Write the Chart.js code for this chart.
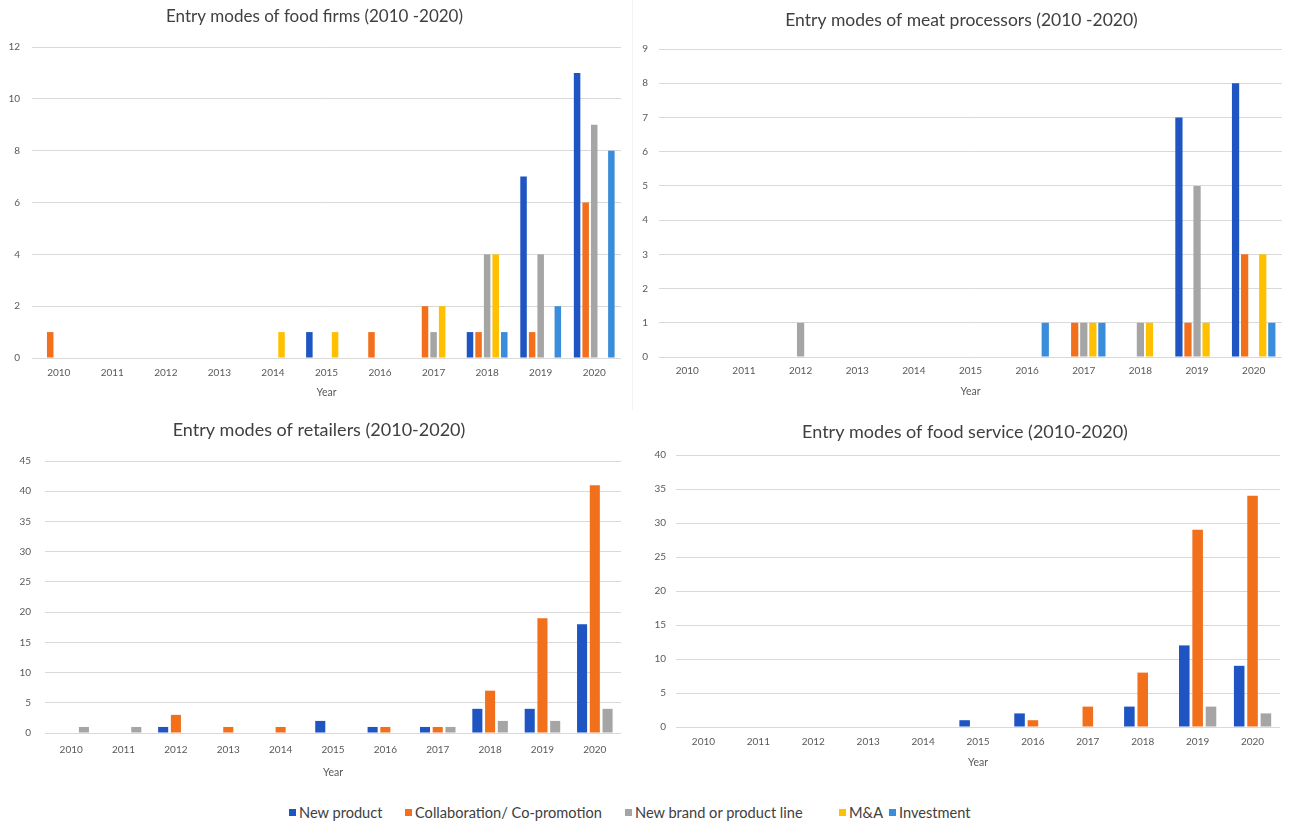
<!DOCTYPE html>
<html>
<head>
<meta charset="utf-8">
<script src="https://cdn.jsdelivr.net/npm/chart.js@4.4.1/dist/chart.umd.min.js"></script>
<style>
  html, body { margin: 0; padding: 0; background: #ffffff; }
  body { width: 1290px; height: 828px; position: relative; overflow: hidden; font-family: Lato, "Open Sans", sans-serif; }
  canvas { position: absolute; }
  .divider { position: absolute; left: 632px; top: 0; width: 1px; height: 410px; background: #f3f3f3; }
  .legend-item { position: absolute; top: 803px; height: 18px; display: flex; align-items: center; font-size: 14.6px; color: #404040; white-space: nowrap; }
  .legend-item span.box { width: 7px; height: 7px; margin-right: 3px; display: inline-block; }
</style>
</head>
<body>
<div class="divider"></div>
<canvas id="foodFirms"></canvas>
<canvas id="meatProcessors"></canvas>
<canvas id="retailers"></canvas>
<canvas id="foodService"></canvas>
<div id="legend"></div>

<script>
// Years on the category axis
const years = ['2010', '2011', '2012', '2013', '2014', '2015', '2016', '2017', '2018', '2019', '2020'];

// Entry modes
const modeNames = ['New product', 'Collaboration/ Co-promotion', 'New brand or product line', 'M&A', 'Investment'];
const modeColors = ['#1f55c2', '#f26f1c', '#a5a5a5', '#ffc000', '#3a8dda'];

// Food firms
const foodNewProduct = [0, 0, 0, 0, 0, 1, 0, 0, 1, 7, 11];
const foodCollaboration = [1, 0, 0, 0, 0, 0, 1, 2, 1, 1, 6];
const foodNewBrand = [0, 0, 0, 0, 0, 0, 0, 1, 4, 4, 9];
const foodMA = [0, 0, 0, 0, 1, 1, 0, 2, 4, 0, 0];
const foodInvestment = [0, 0, 0, 0, 0, 0, 0, 0, 1, 2, 8];

// Meat processors
const meatNewProduct = [0, 0, 0, 0, 0, 0, 0, 0, 0, 7, 8];
const meatCollaboration = [0, 0, 0, 0, 0, 0, 0, 1, 0, 1, 3];
const meatNewBrand = [0, 0, 1, 0, 0, 0, 0, 1, 1, 5, 0];
const meatMA = [0, 0, 0, 0, 0, 0, 0, 1, 1, 1, 3];
const meatInvestment = [0, 0, 0, 0, 0, 0, 1, 1, 0, 0, 1];

// Retailers
const retailNewProduct = [0, 0, 1, 0, 0, 2, 1, 1, 4, 4, 18];
const retailCollaboration = [0, 0, 3, 1, 1, 0, 1, 1, 7, 19, 41];
const retailNewBrand = [1, 1, 0, 0, 0, 0, 0, 1, 2, 2, 4];

// Food service
const serviceNewProduct = [0, 0, 0, 0, 0, 1, 2, 0, 3, 12, 9];
const serviceCollaboration = [0, 0, 0, 0, 0, 0, 1, 3, 8, 29, 34];
const serviceNewBrand = [0, 0, 0, 0, 0, 0, 0, 0, 0, 3, 2];

// Value axis ranges
const foodAxis = { max: 12, step: 2 };
const meatAxis = { max: 9, step: 1 };
const retailAxis = { max: 45, step: 5 };
const serviceAxis = { max: 40, step: 5 };

const FONT = 'Lato, "Open Sans", sans-serif';
const TEXT = '#595959';
const GRID = '#d9d9d9';

function buildChart(id, title, seriesList, axis, box) {
  const canvas = document.getElementById(id);
  canvas.style.left = box.x + 'px';
  canvas.style.top = box.y + 'px';
  canvas.width = box.w;
  canvas.height = box.h;
  canvas.style.width = box.w + 'px';
  canvas.style.height = box.h + 'px';

  const titleSize = box.titleSize, titleLH = titleSize * 1.2;
  const tickSize = 10, tickLH = tickSize * 1.2;
  const yearSize = 10.5, yearLH = yearSize * 1.2;

  // Absolute frame coordinates, translated into the canvas
  const plotL = box.plotL - box.x, plotR = box.plotR - box.x;
  const plotT = box.plotT - box.y, plotB = box.plotB - box.y;
  const padR = box.w - plotR;
  const titleCx = box.titleX - box.x;
  // keep the value labels inside the axis box
  const padL = Math.max(0, Math.min(2 * titleCx - box.w + padR, box.labelL - box.x - 2));
  const titleTop = box.titleY - box.y - titleLH / 2;
  const titleBottom = plotT - titleTop - titleLH;
  const xAxisH = box.h - plotB;

  const datasets = seriesList.map(s => ({
    label: modeNames[s.mode],
    data: s.values,
    backgroundColor: modeColors[s.mode],
    borderWidth: 0,
    categoryPercentage: box.cat,
    barPercentage: box.bar
  }));

  return new Chart(canvas, {
    type: 'bar',
    data: { labels: years, datasets },
    options: {
      responsive: false,
      animation: false,
      devicePixelRatio: 1,
      layout: { padding: { left: padL, right: padR, top: 0, bottom: 0 } },
      plugins: {
        legend: { display: false },
        tooltip: { enabled: false },
        title: {
          display: true,
          text: title,
          color: '#404040',
          font: { family: FONT, size: titleSize, weight: 'normal', lineHeight: 1.2 },
          padding: { top: titleTop, bottom: titleBottom }
        }
      },
      scales: {
        x: {
          grid: { display: false, drawTicks: false },
          border: { display: false },
          ticks: {
            color: TEXT,
            font: { family: FONT, size: tickSize, lineHeight: 1.2 },
            padding: (box.tickY - box.plotB) - tickLH / 2,
            maxRotation: 0,
            autoSkip: false
          },
          title: {
            display: true,
            text: 'Year',
            color: TEXT,
            font: { family: FONT, size: yearSize, lineHeight: 1.2 },
            padding: { top: 0, bottom: (box.y + box.h - box.yearY) - yearLH / 2 }
          },
          afterFit: s => { s.height = xAxisH; }
        },
        y: {
          min: 0,
          max: axis.max,
          grid: { color: GRID, lineWidth: 1, drawTicks: false },
          border: { display: false },
          ticks: {
            stepSize: axis.step,
            color: TEXT,
            font: { family: FONT, size: tickSize },
            padding: box.yPad
          },
          afterFit: s => { s.width = plotL - padL; }
        }
      }
    }
  });
}

buildChart('foodFirms', 'Entry modes of food firms (2010 -2020)', [
  { mode: 0, values: foodNewProduct },
  { mode: 1, values: foodCollaboration },
  { mode: 2, values: foodNewBrand },
  { mode: 3, values: foodMA },
  { mode: 4, values: foodInvestment }
], foodAxis, { x: 0, y: 0, w: 632, h: 405, plotL: 32, plotR: 621, plotT: 47, plotB: 358, labelL: 10,
  titleX: 318, titleY: 17, titleSize: 17, tickY: 373, yearY: 393, yPad: 12, cat: 0.8, bar: 0.76 });

buildChart('meatProcessors', 'Entry modes of meat processors (2010 -2020)', [
  { mode: 0, values: meatNewProduct },
  { mode: 1, values: meatCollaboration },
  { mode: 2, values: meatNewBrand },
  { mode: 3, values: meatMA },
  { mode: 4, values: meatInvestment }
], meatAxis, { x: 633, y: 0, w: 657, h: 405, plotL: 659, plotR: 1282, plotT: 49, plotB: 357, labelL: 643,
  titleX: 965, titleY: 20, titleSize: 17.5, tickY: 371, yearY: 392, yPad: 11, cat: 0.8, bar: 0.8 });

buildChart('retailers', 'Entry modes of retailers (2010-2020)', [
  { mode: 0, values: retailNewProduct },
  { mode: 1, values: retailCollaboration },
  { mode: 2, values: retailNewBrand }
], retailAxis, { x: 0, y: 410, w: 632, h: 380, plotL: 45, plotR: 621, plotT: 461, plotB: 733, labelL: 19,
  titleX: 324, titleY: 430, titleSize: 18, tickY: 750, yearY: 773, yPad: 14, cat: 0.73, bar: 0.79 });

buildChart('foodService', 'Entry modes of food service (2010-2020)', [
  { mode: 0, values: serviceNewProduct },
  { mode: 1, values: serviceCollaboration },
  { mode: 2, values: serviceNewBrand }
], serviceAxis, { x: 633, y: 410, w: 657, h: 380, plotL: 676, plotR: 1280, plotT: 455, plotB: 727, labelL: 652,
  titleX: 966, titleY: 432, titleSize: 18, tickY: 742, yearY: 763, yPad: 10, cat: 0.73, bar: 0.79 });

// Shared legend under the four panels
const legendX = [289, 405, 625, 839, 889];
const legend = document.getElementById('legend');
modeNames.forEach((name, i) => {
  const item = document.createElement('div');
  item.className = 'legend-item';
  item.style.left = legendX[i] + 'px';
  const sw = document.createElement('span');
  sw.className = 'box';
  sw.style.background = modeColors[i];
  item.appendChild(sw);
  item.appendChild(document.createTextNode(name));
  legend.appendChild(item);
});
</script>
</body>
</html>
